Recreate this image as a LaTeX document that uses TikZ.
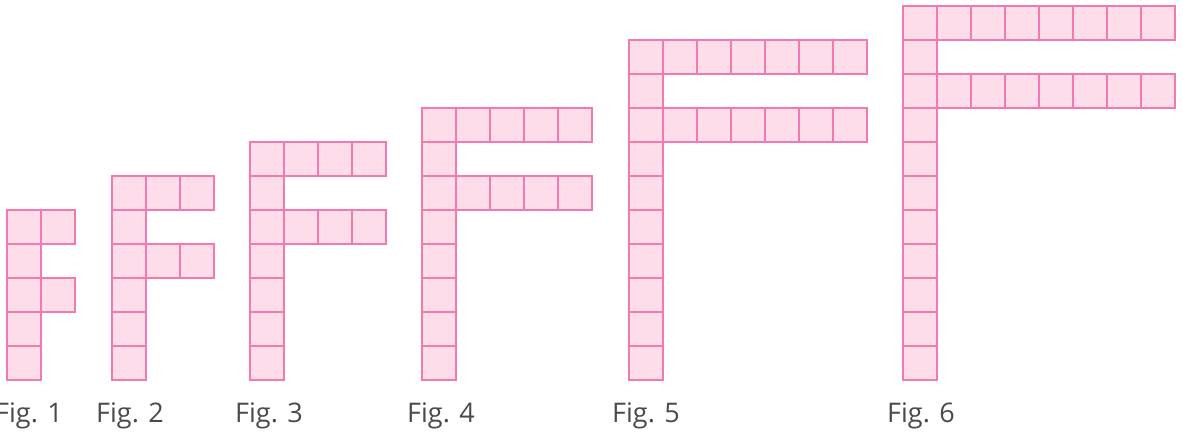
\documentclass[tikz,border=0pt]{standalone}
\usepackage{fontspec}
\setmainfont{Open Sans}
\definecolor{sqfill}{HTML}{FCDDE9}
\definecolor{sqline}{HTML}{F27AB0}
\definecolor{labelgray}{HTML}{4A4A4A}
\begin{document}
\begin{tikzpicture}[x=1pt,y=-1pt,
  sq/.style={fill=sqfill,draw=sqline,line width=1.3pt},
  figlabel/.style={anchor=base west,inner sep=0pt,text=labelgray,font=\fontsize{27}{30}\selectfont}]
\useasboundingbox (0,0) rectangle (1183,431);
% \figF{x0}{column squares}{arm extras}{label}{label x}
\newcommand{\figF}[5]{%
  \pgfmathsetmacro{\topy}{380-#2*34}%
  \foreach \i in {1,...,#2}{%
    \draw[sq] (#1,{\topy+(\i-1)*34}) rectangle ++(34,34);
  }
  \foreach \r in {0,2}{%
    \foreach \j in {1,...,#3}{%
      \draw[sq] ({#1+\j*34},{\topy+\r*34}) rectangle ++(34,34);
    }
  }
  \node[figlabel] at (#5,422) {#4};
}
\figF{7}{5}{1}{Fig. 1}{-5}
\figF{112}{6}{2}{Fig. 2}{96}
\figF{250}{7}{3}{Fig. 3}{235}
\figF{422}{8}{4}{Fig. 4}{407}
\figF{629}{10}{6}{Fig. 5}{612}
\figF{903}{11}{7}{Fig. 6}{887}
\end{tikzpicture}
\end{document}
